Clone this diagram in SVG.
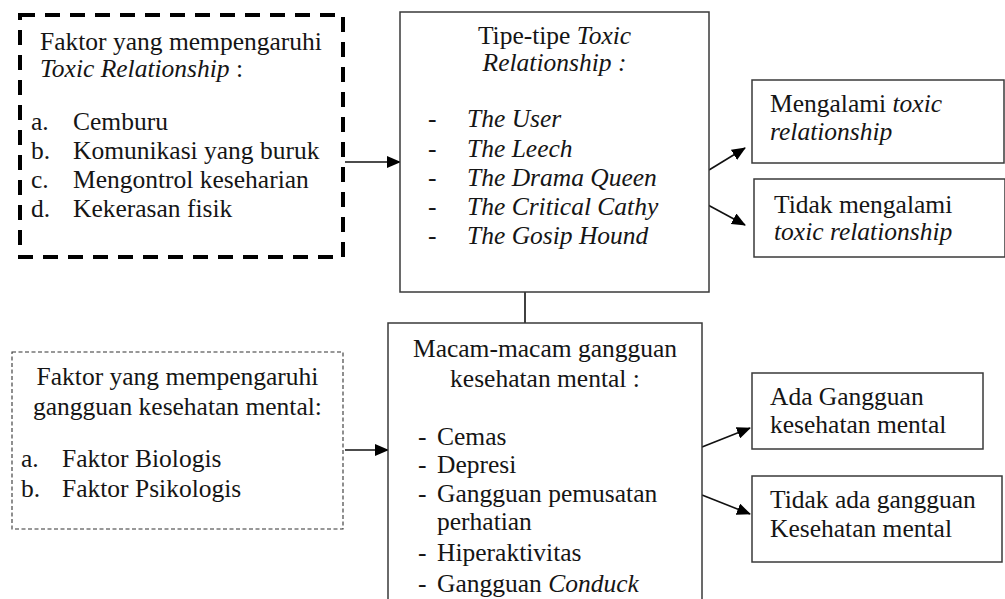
<svg xmlns="http://www.w3.org/2000/svg" width="1005" height="599" viewBox="0 0 1005 599">
<style>
text{font-size:25.5px;fill:#151515}
.i{font-style:italic}
.c{text-anchor:middle}
.box{fill:#fff;stroke:#3a3a3a;stroke-width:1.5}
.thick{fill:#fff;stroke:#000;stroke-width:4;stroke-dasharray:15 10}
.thin{fill:#fff;stroke:#333;stroke-width:1.1;stroke-dasharray:4 2.5}
.conn{stroke:#111;stroke-width:1.6;fill:none}
</style>
<defs>
<marker id="ah" markerUnits="userSpaceOnUse" markerWidth="14" markerHeight="12" refX="13" refY="6" orient="auto">
<path d="M0,0 L14,6 L0,12 Z" fill="#000"/>
</marker>
</defs>
<rect width="1005" height="599" fill="#fff"/>

<g id="connectors">
<line class="conn" x1="345" y1="162" x2="400" y2="162" marker-end="url(#ah)"/>
<line class="conn" x1="709" y1="170" x2="745" y2="148" marker-end="url(#ah)"/>
<line class="conn" x1="708" y1="205" x2="745" y2="225" marker-end="url(#ah)"/>
<line class="conn" x1="345" y1="450" x2="388" y2="450" marker-end="url(#ah)"/>
<line class="conn" x1="702" y1="447" x2="750" y2="428" marker-end="url(#ah)"/>
<line class="conn" x1="702" y1="495" x2="750" y2="514" marker-end="url(#ah)"/>
<line class="conn" x1="525" y1="292" x2="525" y2="323" stroke="#3a3a3a"/>
</g>

<g font-family="Liberation Serif, Times New Roman, serif">
<g id="faktor-toxic">
<rect class="thick" x="20" y="15" width="323" height="242"/>
<text x="40" y="50">Faktor yang mempengaruhi</text>
<text x="40" y="77"><tspan class="i">Toxic Relationship</tspan> :</text>
<text x="31" y="130">a.</text><text x="73" y="130">Cemburu</text>
<text x="31" y="159">b.</text><text x="73" y="159">Komunikasi yang buruk</text>
<text x="31" y="188">c.</text><text x="73" y="188">Mengontrol keseharian</text>
<text x="31" y="217">d.</text><text x="73" y="217">Kekerasan fisik</text>
</g>

<g id="tipe-toxic">
<rect class="box" x="400" y="12" width="309" height="280"/>
<text class="c" x="554.5" y="44">Tipe-tipe <tspan class="i">Toxic</tspan></text>
<text class="c i" x="554.5" y="71">Relationship :</text>
<text x="428" y="127">-</text><text class="i" x="467" y="127">The User</text>
<text x="428" y="157">-</text><text class="i" x="467" y="157">The Leech</text>
<text x="428" y="186">-</text><text class="i" x="467" y="186">The Drama Queen</text>
<text x="428" y="215">-</text><text class="i" x="467" y="215">The Critical Cathy</text>
<text x="428" y="244">-</text><text class="i" x="467" y="244">The Gosip Hound</text>
</g>

<g id="mengalami">
<rect class="box" x="752" y="80" width="252" height="83"/>
<text x="770" y="112">Mengalami <tspan class="i">toxic</tspan></text>
<text class="i" x="770" y="140">relationship</text>
</g>

<g id="tidak-mengalami">
<rect class="box" x="754" y="179" width="251" height="78"/>
<text x="774" y="213">Tidak mengalami</text>
<text class="i" x="774" y="240">toxic relationship</text>
</g>

<g id="faktor-mental">
<rect class="thin" x="12" y="352" width="331" height="177"/>
<text class="c" x="177.5" y="385">Faktor yang mempengaruhi</text>
<text class="c" x="177.5" y="415">gangguan kesehatan mental:</text>
<text x="21" y="467">a.</text><text x="62" y="467">Faktor Biologis</text>
<text x="21" y="497">b.</text><text x="62" y="497">Faktor Psikologis</text>
</g>

<g id="macam-gangguan">
<rect class="box" x="388" y="323" width="314" height="300"/>
<text class="c" x="545" y="357">Macam-macam gangguan</text>
<text class="c" x="545" y="387">kesehatan mental :</text>
<text x="418" y="445">-</text><text x="437" y="445">Cemas</text>
<text x="418" y="473">-</text><text x="437" y="473">Depresi</text>
<text x="418" y="502">-</text><text x="437" y="502">Gangguan pemusatan</text>
<text x="437" y="530">perhatian</text>
<text x="418" y="561">-</text><text x="437" y="561">Hiperaktivitas</text>
<text x="418" y="592">-</text><text x="437" y="592">Gangguan <tspan class="i">Conduck</tspan></text>
</g>

<g id="ada-gangguan">
<rect class="box" x="752" y="373" width="231" height="76"/>
<text x="770" y="405">Ada Gangguan</text>
<text x="770" y="433">kesehatan mental</text>
</g>

<g id="tidak-ada-gangguan">
<rect class="box" x="752" y="476" width="250" height="86"/>
<text x="770" y="508">Tidak ada gangguan</text>
<text x="770" y="537">Kesehatan mental</text>
</g>
</g>
</svg>
